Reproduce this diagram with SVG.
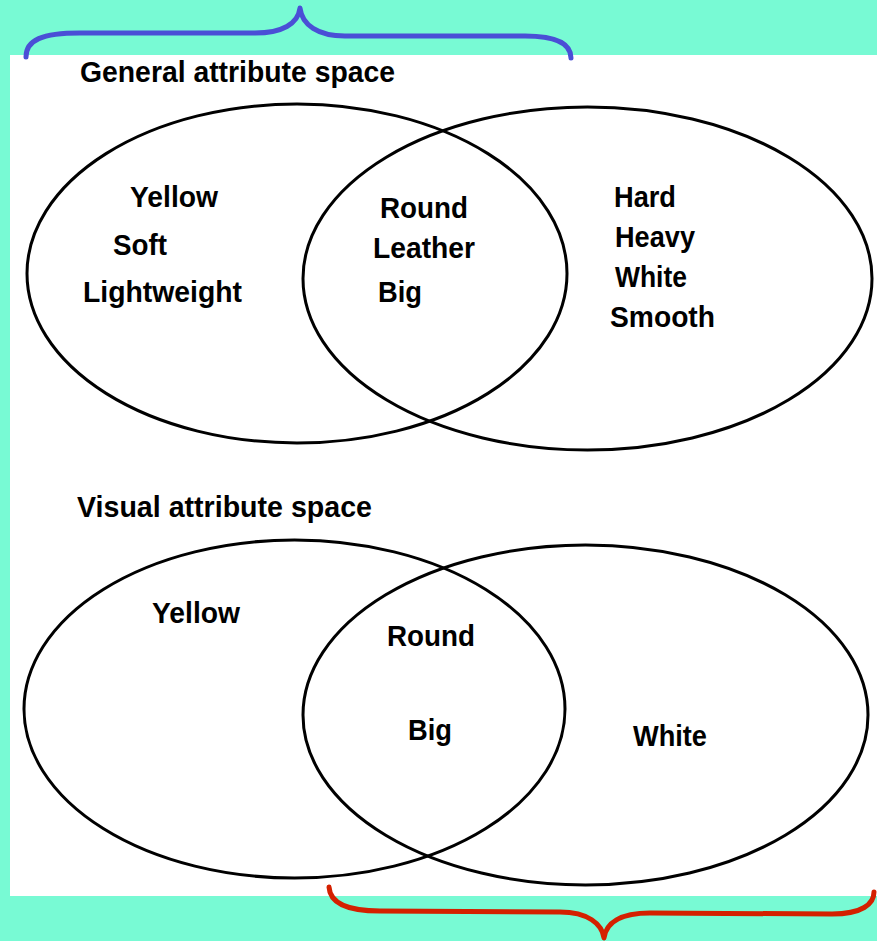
<svg xmlns="http://www.w3.org/2000/svg" width="877" height="941" viewBox="0 0 877 941">
<style>
.bg{fill:#78fad4}
.panel{fill:#ffffff}
.set{fill:none;stroke:#000;stroke-width:3}
.t{font-family:"Liberation Sans",Arial,sans-serif;font-weight:bold;font-size:29px;fill:#000}
.brace{fill:none;stroke-width:5;stroke-linecap:round;stroke-linejoin:round}
</style>
<rect class="bg" x="0" y="0" width="877" height="941"/>
<rect class="panel" x="10" y="55" width="867" height="841"/>
<g id="braces">
<path class="brace" stroke="#4a4fd6" d="M26,57 C26,40 42,33 80,33 L255,33 C282,33 298,24 300,8 C302,25 318,36 345,36 L525,36 C556,36 571,44 571,58"/>
<path class="brace" stroke="#d42000" d="M329,887 C330,904 348,911 380,911 L560,912 C588,912 602,924 604,938 C606,923 620,913 650,913 L832,914 C862,914 874,904 874,892"/>
</g>
<g id="general">
<text class="t" x="80" y="82" textLength="315" lengthAdjust="spacingAndGlyphs">General attribute space</text>
<g id="g-left">
<ellipse class="set" cx="297" cy="273.5" rx="270" ry="169.5"/>
<text class="t" x="130" y="207" textLength="88" lengthAdjust="spacingAndGlyphs">Yellow</text>
<text class="t" x="113" y="255" textLength="54" lengthAdjust="spacingAndGlyphs">Soft</text>
<text class="t" x="83" y="302" textLength="159" lengthAdjust="spacingAndGlyphs">Lightweight</text>
</g>
<g id="g-right">
<ellipse class="set" cx="587.5" cy="278.5" rx="284.5" ry="171.5"/>
<text class="t" x="614" y="207" textLength="62" lengthAdjust="spacingAndGlyphs">Hard</text>
<text class="t" x="615" y="247" textLength="80" lengthAdjust="spacingAndGlyphs">Heavy</text>
<text class="t" x="615" y="287" textLength="72" lengthAdjust="spacingAndGlyphs">White</text>
<text class="t" x="610" y="327" textLength="105" lengthAdjust="spacingAndGlyphs">Smooth</text>
</g>
<g id="g-both">
<text class="t" x="380" y="218" textLength="88" lengthAdjust="spacingAndGlyphs">Round</text>
<text class="t" x="373" y="258" textLength="102" lengthAdjust="spacingAndGlyphs">Leather</text>
<text class="t" x="378" y="302" textLength="44" lengthAdjust="spacingAndGlyphs">Big</text>
</g>
</g>
<g id="visual">
<text class="t" x="77" y="517" textLength="295" lengthAdjust="spacingAndGlyphs">Visual attribute space</text>
<g id="v-left">
<ellipse class="set" cx="294.5" cy="709" rx="270.5" ry="169"/>
<text class="t" x="152" y="623" textLength="88" lengthAdjust="spacingAndGlyphs">Yellow</text>
</g>
<g id="v-right">
<ellipse class="set" cx="585.5" cy="715" rx="282.5" ry="170"/>
<text class="t" x="633" y="746" textLength="74" lengthAdjust="spacingAndGlyphs">White</text>
</g>
<g id="v-both">
<text class="t" x="387" y="646" textLength="88" lengthAdjust="spacingAndGlyphs">Round</text>
<text class="t" x="408" y="740" textLength="44" lengthAdjust="spacingAndGlyphs">Big</text>
</g>
</g>
</svg>
